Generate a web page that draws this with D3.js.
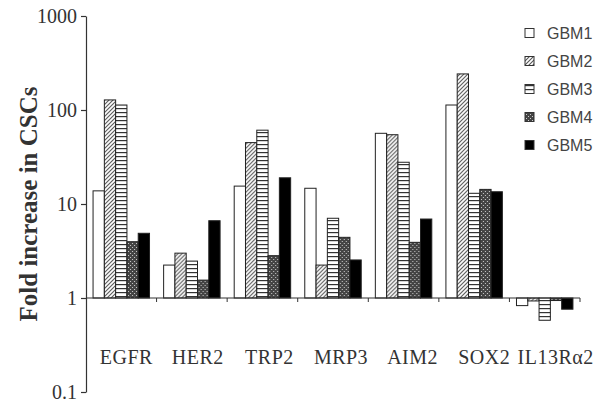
<!DOCTYPE html>
<html>
<head>
<meta charset="utf-8">
<script src="https://cdn.jsdelivr.net/npm/d3@7"></script>
<style>
  body { margin: 0; background: #fff; }
  svg { display: block; }
</style>
</head>
<body>
<svg id="chart"></svg>
<script>
// genes on the x axis
const genes = ["EGFR", "HER2", "TRP2", "MRP3", "AIM2", "SOX2", "IL13R\u03b12"];
const samples = ["GBM1", "GBM2", "GBM3", "GBM4", "GBM5"];

// fold increase per sample, same order as genes
const gbm1 = [13.8, 2.24, 15.5, 14.7, 56.5, 113, 0.83];
const gbm2 = [128, 3.0, 45, 2.24, 54.6, 242, 0.93];
const gbm3 = [113, 2.47, 61, 7.05, 27.8, 13, 0.58];
const gbm4 = [3.97, 1.55, 2.82, 4.42, 3.91, 14.3, 0.94];
const gbm5 = [4.88, 6.64, 19, 2.54, 6.92, 13.5, 0.76];

const yTicks = [0.1, 1, 10, 100, 1000];

const width = 594, height = 405;
const margin = {top: 16, right: 14, bottom: 13, left: 86};

const svg = d3.select("#chart")
    .attr("width", width)
    .attr("height", height)
    .attr("viewBox", [0, 0, width, height]);

// fill patterns (hatch, lines, checker)
const defs = svg.append("defs");

defs.append("pattern")
    .attr("id", "p-diag")
    .attr("patternUnits", "userSpaceOnUse")
    .attr("width", 4).attr("height", 4)
    .call(p => {
        p.append("rect").attr("width", 4).attr("height", 4).attr("fill", "#fff");
        p.append("path")
            .attr("d", "M-1,1 l2,-2 M0,4 l4,-4 M3,5 l2,-2")
            .attr("stroke", "#555").attr("stroke-width", 1.1);
    });

defs.append("pattern")
    .attr("id", "p-horiz")
    .attr("patternUnits", "userSpaceOnUse")
    .attr("width", 4).attr("height", 4)
    .call(p => {
        p.append("rect").attr("width", 4).attr("height", 4).attr("fill", "#fff");
        p.append("rect").attr("y", 0).attr("width", 4).attr("height", 1.2).attr("fill", "#333");
    });

defs.append("pattern")
    .attr("id", "p-check")
    .attr("patternUnits", "userSpaceOnUse")
    .attr("width", 4).attr("height", 4)
    .call(p => {
        p.append("rect").attr("width", 4).attr("height", 4).attr("fill", "#444");
        p.append("rect").attr("x", 1).attr("y", 1).attr("width", 1).attr("height", 1).attr("fill", "#ccc");
        p.append("rect").attr("x", 3).attr("y", 3).attr("width", 1).attr("height", 1).attr("fill", "#ccc");
    });

const fills = ["#fff", "url(#p-diag)", "url(#p-horiz)", "url(#p-check)", "#000"];

const data = genes.map((g, i) => ({
    gene: g,
    values: [gbm1[i], gbm2[i], gbm3[i], gbm4[i], gbm5[i]].map((v, j) => ({sample: samples[j], value: v}))
}));

const x0 = d3.scaleBand(genes, [margin.left, width - margin.right])
    .paddingInner(0.2)
    .paddingOuter(0.1);

const x1 = d3.scaleBand(samples, [0, x0.bandwidth()]);

const y = d3.scaleLog([0.1, 1000], [height - margin.bottom, margin.top]);

const color = d3.scaleOrdinal(samples, fills);

// bars
svg.append("g")
    .selectAll("g")
    .data(data)
    .join("g")
        .attr("transform", d => `translate(${x0(d.gene)},0)`)
    .selectAll("rect")
    .data(d => d.values)
    .join("rect")
        .attr("x", d => x1(d.sample))
        .attr("width", x1.bandwidth())
        .attr("y", d => y(Math.max(d.value, 1)))
        .attr("height", d => Math.abs(y(d.value) - y(1)))
        .attr("fill", d => color(d.sample))
        .attr("stroke", "#222")
        .attr("stroke-width", 1);

// y axis
svg.append("g")
    .attr("transform", `translate(${margin.left},0)`)
    .call(d3.axisLeft(y)
        .tickValues(yTicks)
        .tickFormat(d3.format("~g"))
        .tickSize(5)
        .tickSizeOuter(0))
    .call(g => g.selectAll("path, line").attr("stroke", "#333").attr("stroke-width", 1.2))
    .call(g => g.selectAll("text")
        .attr("x", -9)
        .attr("fill", "#333")
        .style("font", "20px 'Liberation Serif', serif"));

// baseline at 1 with ticks between genes
const step = x0.step();
const bounds = d3.range(genes.length + 1).map(i => x0.range()[0] + i * step);
const base = svg.append("g").attr("transform", `translate(0,${y(1)})`);
base.append("line")
    .attr("x1", bounds[0]).attr("x2", bounds[bounds.length - 1])
    .attr("stroke", "#333").attr("stroke-width", 1.2);
base.selectAll("line.tick")
    .data(bounds.slice(1))
    .join("line")
        .attr("class", "tick")
        .attr("x1", d => d).attr("x2", d => d)
        .attr("y1", 0).attr("y2", 4)
        .attr("stroke", "#333");

// gene labels
svg.append("g")
    .selectAll("text")
    .data(genes)
    .join("text")
        .attr("x", (d, i) => x0(d) + x0.bandwidth() / 2 + 5 + i)
        .attr("y", 364)
        .attr("text-anchor", "middle")
        .attr("fill", "#333")
        .style("font", "20px 'Liberation Serif', serif")
        .style("letter-spacing", "0.5px")
        .text(d => d);

// y title
svg.append("text")
    .attr("transform", `translate(37,${(margin.top + height - margin.bottom) / 2}) rotate(-90)`)
    .attr("text-anchor", "middle")
    .attr("fill", "#333")
    .style("font", "bold 25px 'Liberation Serif', serif")
    .text("Fold increase in CSCs");

// legend
const legend = svg.append("g")
    .selectAll("g")
    .data(samples)
    .join("g")
        .attr("transform", (d, i) => `translate(525,${33 + i * 28})`);

legend.append("rect")
    .attr("x", 0).attr("y", -4.5)
    .attr("width", 9).attr("height", 9)
    .attr("fill", d => color(d))
    .attr("stroke", "#333");

legend.append("text")
    .attr("x", 22)
    .attr("dy", "0.35em")
    .attr("fill", "#444")
    .style("font", "16px 'Liberation Sans', Arial, sans-serif")
    .text(d => d);
</script>
</body>
</html>
